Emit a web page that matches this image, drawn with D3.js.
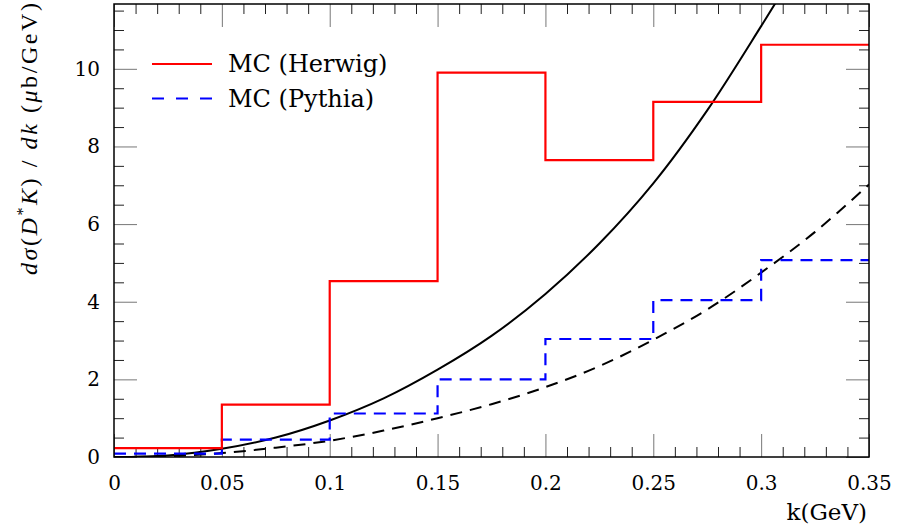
<!DOCTYPE html>
<html>
<head>
<meta charset="utf-8">
<script src="https://cdn.jsdelivr.net/npm/d3@7"></script>
<style>
  body { margin: 0; background: #fff; }
  svg { display: block; font-family: "DejaVu Serif", serif; }
</style>
</head>
<body>
<svg id="chart" width="899" height="530"></svg>
<script>
// ========== DATA ==========
const binEdges = [0, 0.05, 0.1, 0.15, 0.2, 0.25, 0.3, 0.35];
const herwig = [0.23, 1.35, 4.53, 9.9, 7.65, 9.15, 10.62];   // MC (Herwig)
const pythia = [0.085, 0.45, 1.12, 2.0, 3.04, 4.04, 5.07];  // MC (Pythia)

// smooth curves, points
const solidK = [0, 0.025, 0.05, 0.075, 0.1, 0.125, 0.15, 0.175, 0.2, 0.225, 0.25, 0.275, 0.3, 0.31];
const solidV = [0, 0.04, 0.21, 0.5, 0.94, 1.51, 2.25, 3.12, 4.2, 5.5, 7.05, 8.93, 11.1, 12.0];
const dashK = [0, 0.025, 0.05, 0.075, 0.1, 0.125, 0.15, 0.175, 0.2, 0.225, 0.25, 0.275, 0.3, 0.325, 0.35];
const dashV = [0, 0.02, 0.1, 0.24, 0.42, 0.68, 1.0, 1.36, 1.8, 2.34, 3.02, 3.8, 4.75, 5.8, 7.02];

const xMajor = [0, 0.05, 0.1, 0.15, 0.2, 0.25, 0.3, 0.35];
const xLabels = ["0", "0.05", "0.1", "0.15", "0.2", "0.25", "0.3", "0.35"];
const xMinor = d3.range(0, 0.3501, 0.01).filter(v => Math.abs(v / 0.05 - Math.round(v / 0.05)) > 1e-6);
const yMajor = [0, 2, 4, 6, 8, 10];
const yMinor = d3.range(0, 11.6, 0.5).filter(v => v % 2 !== 0);

const legendItems = [
  { label: "MC (Herwig)", color: "#ff0000", dash: null },
  { label: "MC (Pythia)", color: "#0000ff", dash: "12,8" }
];

// ========== LAYOUT ==========
const L = 114, R = 869, T = 4, B = 457;
const svg = d3.select("#chart");
const x = d3.scaleLinear().domain([0, 0.35]).range([L, R]);
const y = d3.scaleLinear().domain([0, 11.67]).range([B, T]);

// ========== AXES ==========
function styleAxis(g, color) {
  g.attr("color", color).attr("font-family", null).attr("font-size", null);
  g.select(".domain").remove();
}

// bottom
svg.append("g").attr("transform", `translate(0,${B})`)
  .call(d3.axisBottom(x).tickValues(xMinor).tickSize(-10).tickFormat(""))
  .call(g => styleAxis(g, "#222"));
svg.append("g").attr("transform", `translate(0,${B})`)
  .call(d3.axisBottom(x).tickValues(xMajor).tickSize(-23).tickPadding(19)
    .tickFormat((d, i) => xLabels[i]))
  .call(g => styleAxis(g, "#777"))
  .call(g => g.selectAll("text").attr("fill", "#000").style("font-size", "20px"));

// top
svg.append("g").attr("transform", `translate(0,${T})`)
  .call(d3.axisTop(x).tickValues(xMinor).tickSize(-10).tickFormat(""))
  .call(g => styleAxis(g, "#222"));
svg.append("g").attr("transform", `translate(0,${T})`)
  .call(d3.axisTop(x).tickValues(xMajor).tickSize(-23).tickFormat(""))
  .call(g => styleAxis(g, "#777"));

// left
svg.append("g").attr("transform", `translate(${L},0)`)
  .call(d3.axisLeft(y).tickValues(yMinor).tickSize(-10).tickFormat(""))
  .call(g => styleAxis(g, "#222"));
svg.append("g").attr("transform", `translate(${L},0)`)
  .call(d3.axisLeft(y).tickValues(yMajor).tickSize(-23).tickPadding(14).tickFormat(d3.format("d")))
  .call(g => styleAxis(g, "#777"))
  .call(g => g.selectAll("text").attr("fill", "#000").style("font-size", "20px"));

// right
svg.append("g").attr("transform", `translate(${R},0)`)
  .call(d3.axisRight(y).tickValues(yMinor).tickSize(-10).tickFormat(""))
  .call(g => styleAxis(g, "#222"));
svg.append("g").attr("transform", `translate(${R},0)`)
  .call(d3.axisRight(y).tickValues(yMajor).tickSize(-23).tickFormat(""))
  .call(g => styleAxis(g, "#777"));

// ========== CURVES ==========
svg.append("clipPath").attr("id", "plot-clip")
  .append("rect").attr("x", L).attr("y", T).attr("width", R - L).attr("height", B - T);

const plot = svg.append("g").attr("clip-path", "url(#plot-clip)");

const smooth = d3.line().x(d => x(d[0])).y(d => y(d[1])).curve(d3.curveCatmullRom.alpha(0.5));

plot.append("path")
  .datum(dashK.map((k, i) => [k, dashV[i]]))
  .attr("d", smooth)
  .attr("fill", "none").attr("stroke", "#000").attr("stroke-width", 2)
  .attr("stroke-dasharray", "12,8");

plot.append("path")
  .datum(solidK.map((k, i) => [k, solidV[i]]))
  .attr("d", smooth)
  .attr("fill", "none").attr("stroke", "#000").attr("stroke-width", 2);

// histograms as steps
const step = d3.line().x(d => x(d[0])).y(d => y(d[1])).curve(d3.curveStepAfter);
function histPoints(vals) {
  const pts = vals.map((v, i) => [binEdges[i], v]);
  pts.push([binEdges[binEdges.length - 1], vals[vals.length - 1]]);
  return pts;
}

plot.append("path")
  .datum(histPoints(pythia))
  .attr("d", step)
  .attr("fill", "none").attr("stroke", legendItems[1].color).attr("stroke-width", 2.2)
  .attr("stroke-dasharray", legendItems[1].dash);

plot.append("path")
  .datum(histPoints(herwig))
  .attr("d", step)
  .attr("fill", "none").attr("stroke", legendItems[0].color).attr("stroke-width", 2.2);

// frame
svg.append("rect")
  .attr("x", L).attr("y", T).attr("width", R - L).attr("height", B - T)
  .attr("fill", "none").attr("stroke", "#000").attr("stroke-width", 1.5);

// ========== LEGEND ==========
const legend = svg.append("g").attr("transform", "translate(152,64)");
legendItems.forEach((item, i) => {
  const row = legend.append("g").attr("transform", `translate(0,${i * 34.5})`);
  row.append("line")
    .attr("x1", 0).attr("x2", 60).attr("y1", 0).attr("y2", 0)
    .attr("stroke", item.color).attr("stroke-width", 2)
    .attr("stroke-dasharray", item.dash ? "12,12" : null);
  row.append("text")
    .attr("x", 76).attr("y", 8)
    .style("font-size", "24px")
    .text(item.label);
});

// ========== AXIS TITLES ==========
svg.append("text")
  .attr("x", 867).attr("y", 520)
  .attr("text-anchor", "end")
  .style("font-size", "23px")
  .text("k(GeV)");

const yTitle = svg.append("text")
  .attr("transform", "translate(37,275) rotate(-90)")
  .attr("textLength", 272).attr("lengthAdjust", "spacing")
  .style("font-family", "'Liberation Serif', serif")
  .style("font-size", "24px");
yTitle.append("tspan").style("font-style", "italic").text("dσ");
yTitle.append("tspan").text("(");
yTitle.append("tspan").style("font-style", "italic").text("D");
yTitle.append("tspan").attr("dy", -9).style("font-size", "16px").text("*");
yTitle.append("tspan").attr("dy", 9).style("font-style", "italic").text("K");
yTitle.append("tspan").text(") / ");
yTitle.append("tspan").style("font-style", "italic").text("dk");
yTitle.append("tspan").text(" (");
yTitle.append("tspan").style("font-style", "italic").text("μ");
yTitle.append("tspan").text("b/GeV)");
</script>
</body>
</html>
